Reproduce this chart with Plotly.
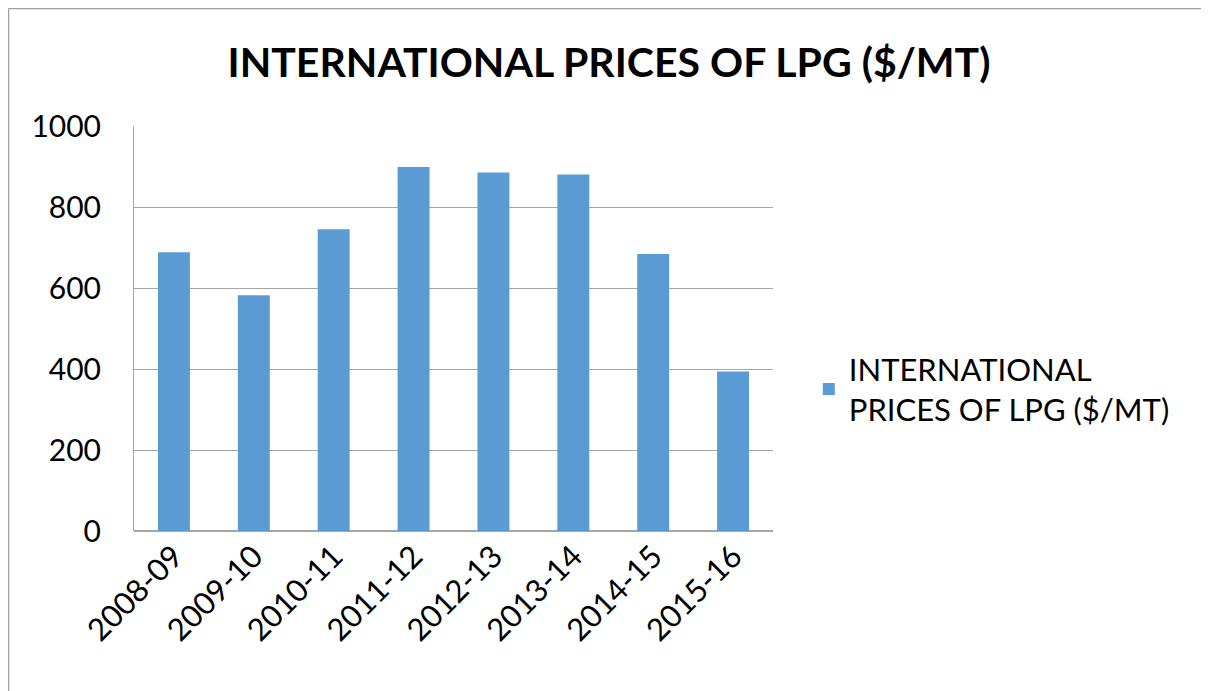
import plotly.graph_objects as go

categories = ["2008-09", "2009-10", "2010-11", "2011-12", "2012-13", "2013-14", "2014-15", "2015-16"]
prices = [688, 582, 745, 899, 885, 880, 684, 394]
series_name = "INTERNATIONAL<br>PRICES OF LPG ($/MT)"
title_text = "INTERNATIONAL PRICES OF LPG ($/MT)"
y_ticks = [0, 200, 400, 600, 800, 1000]

FONT = "Lato, 'Open Sans', sans-serif"
GRID = "#a6a6a6"

fig = go.Figure()
fig.add_trace(go.Bar(
    x=categories, y=prices, name=series_name,
    marker=dict(color="#5b9bd5", line=dict(width=0)),
    showlegend=True,
))

fig.update_layout(
    width=1209, height=691,
    paper_bgcolor="white", plot_bgcolor="white",
    margin=dict(l=126, r=444, t=118, b=168),
    bargap=0.6,
    font=dict(family=FONT, color="#000000"),
    title=dict(text="<b>" + title_text + "</b>", x=(601 - 0) / 1209, xanchor="center",
               y=1 - 55 / 691, yanchor="middle", yref="container",
               font=dict(size=41, family=FONT, color="#000000")),
    legend=dict(x=1.056, xanchor="left", y=0.35, yanchor="middle",
                font=dict(size=31, family=FONT, color="#000000"),
                itemsizing="constant", bgcolor="rgba(0,0,0,0)"),
    xaxis=dict(type="category", tickangle=-45,
               tickfont=dict(size=31, family=FONT, color="#000000"),
               showgrid=False, showline=False, ticks=""),
    yaxis=dict(range=[0, 1000], tickvals=y_ticks, showgrid=True, gridcolor=GRID, gridwidth=1,
               showline=True, linecolor=GRID, linewidth=1, zeroline=True, zerolinecolor=GRID,
               tickfont=dict(size=30, family=FONT, color="#000000"), ticks="",
               ticklabelstandoff=26),
    shapes=[
        dict(type="line", xref="paper", yref="paper", x0=-0.1964, x1=1.7, y0=1.2903, y1=1.2903,
             line=dict(color="#a0a0a0", width=1.5)),
        dict(type="line", xref="paper", yref="paper", x0=-0.1964, x1=-0.1964, y0=1.2903, y1=-0.45,
             line=dict(color="#a0a0a0", width=1.5)),
    ],
)

fig.write_html("out.html")
